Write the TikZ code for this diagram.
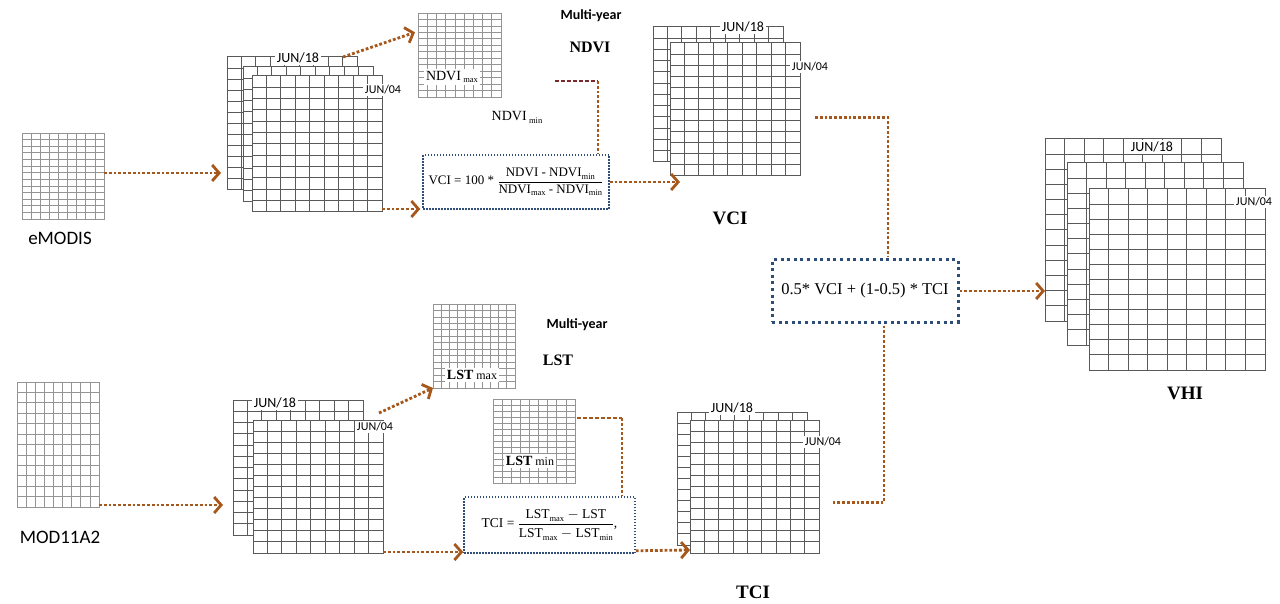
\documentclass[tikz,border=0pt]{standalone}
\usepackage{fontspec}
\setmainfont{Liberation Serif}
\newfontfamily\calibri{Carlito}
\usetikzlibrary{positioning, arrows.meta, calc}
\definecolor{flowBrown}{HTML}{A5571C}
\definecolor{minRed}{HTML}{7A2A2A}
\definecolor{boxBlue}{HTML}{2E4D7B}
\newcommand{\subtxt}[1]{\raisebox{-0.45ex}{\fontsize{8.5}{9}\selectfont #1}}
% one gridded layer: [grid style]{name}{top left}{width}{height}{cols}{rows}
\newcommand{\gridlayer}[7][stackgrid]{%
  \node[layer, #1, minimum width=#4pt, minimum height=#5pt] (#2) at #3 {};
  \pgfmathtruncatemacro\lastcol{#6-1}\pgfmathtruncatemacro\lastrow{#7-1}
  \foreach \i in {1,...,\lastcol}
    \draw[#1] ($(#2.north west)!\i/#6!(#2.north east)$) -- ($(#2.south west)!\i/#6!(#2.south east)$);
  \foreach \j in {1,...,\lastrow}
    \draw[#1] ($(#2.north west)!\j/#7!(#2.south west)$) -- ($(#2.north east)!\j/#7!(#2.south east)$);
}

\begin{document}
\begin{tikzpicture}[x=1pt, y=-1pt,
    layer/.style={draw, fill=white, anchor=north west, inner sep=0pt, outer sep=0pt},
    stackgrid/.style={draw=black!65, line width=1pt},
    thingrid/.style={draw=black!42, line width=0.7pt},
    juntop/.style={fill=white, inner sep=1.5pt, font=\calibri\fontsize{14}{16}\selectfont},
    junfront/.style={fill=white, inner sep=2pt, font=\calibri\fontsize{12}{14}\selectfont},
    srclabel/.style={font=\calibri\fontsize{19}{21}\selectfont},
    multi/.style={font=\calibri\bfseries\fontsize{14}{16}\selectfont},
    title/.style={font=\bfseries\fontsize{19}{21}\selectfont},
    dotline/.style={flowBrown, line width=2.8pt, dash pattern=on 2.8pt off 2pt},
    flow/.style={dotline, -{Straight Barb[length=7pt, width=16pt, line width=2.8pt]}},
    dashline/.style={line width=1.8pt, dash pattern=on 4pt off 2pt},
    formbox/.style={draw=boxBlue, line width=1.5pt, dash pattern=on 1.5pt off 1.5pt,
      inner sep=0pt, align=center}]
  \useasboundingbox (0,0) rectangle (1280,604);

  % inputs
  \gridlayer[thingrid]{emodis}{(22,133)}{82}{86}{9}{13}
  \node[srclabel] (emodislab) at (60,238) {eMODIS};
  \gridlayer[thingrid]{modis}{(17,382)}{82}{125}{9}{12}
  \node[srclabel] (modislab) at (60,537) {MOD11A2};

  % eMODIS series
  \gridlayer{eback}{(227,57)}{130}{133}{9}{12}
  \node[juntop] (etop) at (298,58) {JUN/18};
  \gridlayer{emid}{(243,67)}{130}{135}{9}{12}
  \gridlayer{efront}{(252,76)}{130}{136}{9}{12}
  \node[junfront] (efirst) at (383,90) {JUN/04};

  % MOD11A2 series
  \gridlayer{lback}{(233,400)}{130}{135}{9}{12}
  \node[juntop] (ltop) at (275,403) {JUN/18};
  \gridlayer{lfront}{(253,420)}{130}{133}{9}{12}
  \node[junfront] (lfirst) at (375,427) {JUN/04};

  % multi-year NDVI
  \gridlayer[thingrid]{ndvimax}{(418,13)}{83}{84}{9}{13}
  \node[fill=white, inner sep=2pt, font=\fontsize{14}{16}\selectfont] (ndvimaxlab) at (452,77) {NDVI\,\subtxt{max}};
  \node[multi] (ndvimulti) at (591,16) {Multi-year};
  \node[font=\bfseries\fontsize{16}{18}\selectfont] (ndvititle) at (590,47) {NDVI};
  \node[font=\fontsize{14}{16}\selectfont] (ndviminlab) at (517,117) {NDVI\,\subtxt{min}};

  % multi-year LST
  \gridlayer[thingrid]{lstmax}{(433,304)}{82}{84}{10}{13}
  \node[fill=white, inner sep=2pt, font=\fontsize{12}{14}\selectfont] (lstmaxlab) at (472,375) {\textbf{\fontsize{14}{16}\selectfont LST} max};
  \gridlayer[thingrid]{lstmin}{(493,399)}{82}{84}{9}{14}
  \node[fill=white, inner sep=2pt, font=\fontsize{12}{14}\selectfont] (lstminlab) at (530,461) {\textbf{\fontsize{14}{16}\selectfont LST} min};
  \node[multi] (lstmulti) at (577,325) {Multi-year};
  \node[font=\bfseries\fontsize{16}{18}\selectfont] (lsttitle) at (558,360) {LST};

  % formulas
  \node[formbox, minimum width=186pt, minimum height=54pt, font=\fontsize{13}{15}\selectfont] (vcibox) at (516,182)
    {VCI = 100 * $\displaystyle\frac{\mbox{NDVI - NDVI\subtxt{min}}}{\mbox{NDVI\subtxt{max} - NDVI\subtxt{min}}}$};
  \node[formbox, minimum width=171pt, minimum height=56pt, font=\fontsize{13.5}{15}\selectfont] (tcibox) at (549.5,525)
    {TCI = $\displaystyle\frac{\mbox{LST\subtxt{max} $-$ LST}}{\mbox{LST\subtxt{max} $-$ LST\subtxt{min}}}$,};
  \node[formbox, line width=3pt, dash pattern=on 3pt off 3.6pt, minimum width=186pt, minimum height=62pt,
    font=\fontsize{16.5}{18}\selectfont] (mainbox) at (865,291) {0.5* VCI + (1-0.5) * TCI};

  % VCI series
  \gridlayer{vback}{(653,27)}{130}{135}{9}{12}
  \node[juntop] (vtop) at (743,27) {JUN/18};
  \gridlayer{vfront}{(670,43)}{130}{133}{9}{12}
  \node[junfront] (vfirst) at (810,67) {JUN/04};
  \node[title] (vcilab) at (730,218) {VCI};

  % TCI series
  \gridlayer{tback}{(677,412)}{130}{133}{9}{12}
  \node[juntop] (ttop) at (732,408) {JUN/18};
  \gridlayer{tfront}{(690,420)}{129}{133}{9}{12}
  \node[junfront] (tfirst) at (823,442) {JUN/04};
  \node[title] (tcilab) at (753,592) {TCI};

  % VHI series
  \gridlayer{hback}{(1045,139)}{176}{182}{9}{12}
  \node[juntop] (htop) at (1152,147) {JUN/18};
  \gridlayer{hmid}{(1067,163)}{176}{182}{9}{12}
  \gridlayer{hfront}{(1089,189)}{176}{181}{9}{12}
  \node[junfront] (hfirst) at (1254,202) {JUN/04};
  \node[title] (vhilab) at (1185,393) {VHI};

  \coordinate (ndvifrom) at (555,81);
  \coordinate (ndvicorner) at (598,81);
  \coordinate (lstcorner) at (622,418);

  % connectors
  \draw[flow, shorten >=6pt] ($(emodis.east)+(0,-3)$) -- ($(emodis.east -| eback.west)+(0,-3)$);
  \draw[flow] ($(eback.north east)+(-14,0)$) -- ($(ndvimax.north west)!0.23!(ndvimax.south west)+(-3,0)$);
  \draw[flow] ($(efront.south east)+(0,-3)$) -- ($(efront.south east -| vcibox.west)+(-2,-3)$);
  \draw[dashline, minRed] (ndvifrom) -- (ndvicorner);
  \draw[dotline] (ndvicorner) -- (ndvicorner |- vcibox.north);
  \draw[flow] (vcibox.east) -- ($(vcibox.east -| vfront.west)+(10,0)$);
  \draw[dotline, shorten <=15pt] ($(vfront.east)+(0,8)$) -| ($(mainbox.north)+(23,-2)$);
  \draw[flow] (mainbox.east) -- (mainbox.east -| hback.west);
  \draw[dotline] ($(mainbox.south)+(19,2)$) |- ($(tfront.east)+(14,16)$);

  \draw[flow, shorten >=10pt] ($(modis.south east)+(0,-2)$) -- ($(modis.south east -| lback.west)+(0,-2)$);
  \draw[flow] ($(lfront.north east)+(-4,-7)$) -- (lstmax.south west);
  \draw[flow] ($(lfront.south east)+(0,-1)$) -- ($(lfront.south east -| tcibox.west)+(0,-1)$);
  \draw[dashline, flowBrown] ($(lstmin.north east)+(2,19)$) -- (lstcorner);
  \draw[dotline] (lstcorner) -- (lstcorner |- tcibox.north);
  \draw[flow] ($(tcibox.south east)+(0,-3)$) -- ($(tfront.south west)+(0,-3)$);
\end{tikzpicture}
\end{document}
